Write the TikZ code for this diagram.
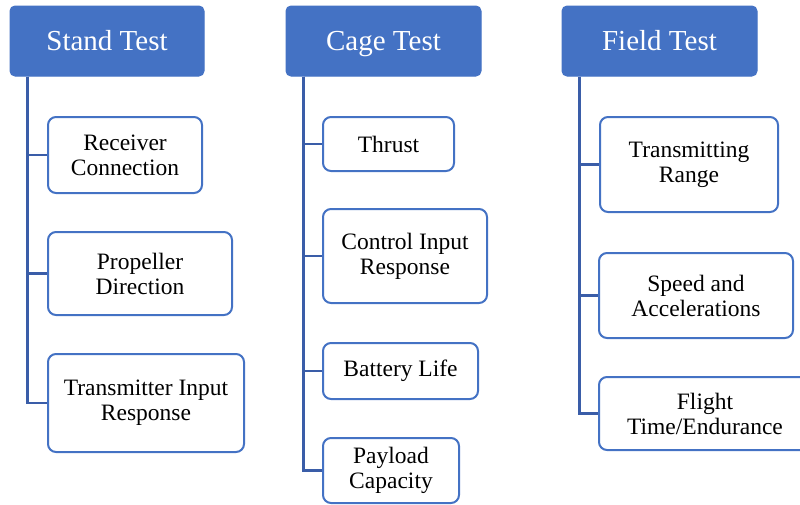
\documentclass[tikz,border=0pt]{standalone}
\usepackage{fontspec}
\setmainfont{Liberation Serif}
\definecolor{hdrblue}{HTML}{4472C4}
\definecolor{lineblue}{HTML}{3A5DA8}
\begin{document}
\begin{tikzpicture}[x=1pt,y=-1pt,
  hdr/.style={draw=hdrblue, fill=hdrblue, rounded corners=5pt, line width=1pt,
    text=white, font=\fontsize{29}{33}\selectfont, inner sep=0pt,
    text height=20pt, text depth=2pt},
  item/.style={draw=hdrblue, fill=white, rounded corners=8pt, line width=2pt,
    align=center, font=\fontsize{23.5}{25}\selectfont, inner sep=0pt},
  conn/.style={draw=lineblue, line width=2.6pt}]
\useasboundingbox (0,0) rectangle (800,504);
% headers
\node[hdr, minimum width=194pt, minimum height=70pt] (sh) at (107,41) {Stand Test};
\node[hdr, minimum width=195pt, minimum height=70pt] (ch) at (383.5,41) {Cage Test};
\node[hdr, minimum width=195pt, minimum height=70pt] (fh) at (659.5,41) {Field Test};
% stand children
\node[item, minimum width=154pt, minimum height=76pt] (rc) at (125,155) {Receiver\\Connection};
\node[item, minimum width=184pt, minimum height=83pt] (pd) at (140,273.5) {Propeller\\Direction};
\node[item, minimum width=196pt, minimum height=98pt] (tir) at (146,403) {Transmitter Input\\Response};
% cage children
\node[item, minimum width=131pt, minimum height=54pt] (th) at (388.5,144) {Thrust};
\node[item, minimum width=164pt, minimum height=94pt] (cir) at (405,256) {Control Input\\Response};
\node[item, minimum width=155pt, minimum height=56pt] (bl) at (400.5,371) {Battery Life};
\node[item, minimum width=136pt, minimum height=65pt] (pc) at (391,470.5) {Payload\\Capacity};
% field children
\node[item, minimum width=178pt, minimum height=95pt] (tr) at (689,164.5) {Transmitting\\Range};
\node[item, minimum width=194pt, minimum height=85pt] (sa) at (696,295.5) {Speed and\\Accelerations};
\node[item, minimum width=212pt, minimum height=73pt] (ft) at (705,413.5) {Flight\\Time/Endurance};
% connectors
\foreach \c in {rc,pd,tir}{\draw[conn] ([xshift=18pt]sh.south west) |- (\c.west);}
\foreach \c in {th,cir,bl,pc}{\draw[conn] ([xshift=18pt]ch.south west) |- (\c.west);}
\foreach \c in {tr,sa,ft}{\draw[conn] ([xshift=18pt]fh.south west) |- (\c.west);}
\end{tikzpicture}
\end{document}
